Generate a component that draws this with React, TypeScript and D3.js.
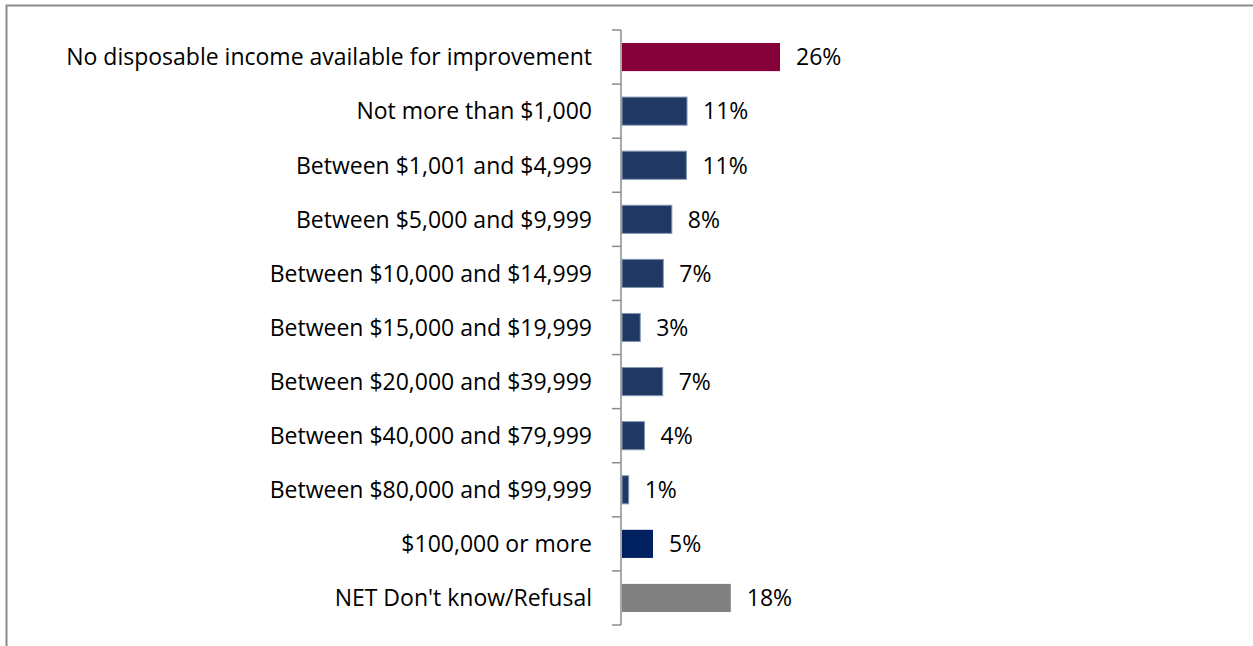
import { useEffect, useRef } from 'react';
import * as d3 from 'd3';

const categories = [
  'No disposable income available for improvement',
  'Not more than $1,000',
  'Between $1,001 and $4,999',
  'Between $5,000 and $9,999',
  'Between $10,000 and $14,999',
  'Between $15,000 and $19,999',
  'Between $20,000 and $39,999',
  'Between $40,000 and $79,999',
  'Between $80,000 and $99,999',
  '$100,000 or more',
  "NET Don't know/Refusal",
];

const values = [26, 10.7, 10.6, 8.2, 6.8, 3.0, 6.7, 3.7, 1.1, 5.1, 17.9];
const valueLabels = ['26%', '11%', '11%', '8%', '7%', '3%', '7%', '4%', '1%', '5%', '18%'];
const barColors = [
  '#86003a', '#1f3864', '#1f3864', '#1f3864', '#1f3864', '#1f3864',
  '#1f3864', '#1f3864', '#1f3864', '#002060', '#808080',
];
const barStrokes = [
  'none', '#8497b0', '#8497b0', '#8497b0', '#8497b0', '#8497b0',
  '#8497b0', '#8497b0', '#8497b0', 'none', 'none',
];

const App = () => {
  const svgRef = useRef<SVGSVGElement>(null);

  useEffect(() => {
    const svg = d3.select(svgRef.current);
    svg.selectAll('*').remove();

    const W = 1253;
    const H = 646;
    const axisX = 621;
    const font = "'Open Sans', sans-serif";
    const fontSize = '23px';

    // outer border (left + top visible)
    svg.append('rect')
      .attr('x', 6.5).attr('y', 5.5)
      .attr('width', W + 20).attr('height', H + 20)
      .attr('fill', 'none').attr('stroke', '#8c8c8c').attr('stroke-width', 2);

    const y = d3.scaleBand<number>()
      .domain(d3.range(categories.length))
      .range([30, 625])
      .paddingInner(0.48)
      .paddingOuter(0.24);

    const x = d3.scaleLinear().domain([0, 26]).range([axisX, 779]);

    // bars
    svg.selectAll('.bar')
      .data(values)
      .enter()
      .append('rect')
      .attr('class', 'bar')
      .attr('x', x(0) + 1)
      .attr('y', (d, i) => y(i)!)
      .attr('width', (d) => x(d) - x(0))
      .attr('height', y.bandwidth())
      .attr('fill', (d, i) => barColors[i])
      .attr('stroke', (d, i) => barStrokes[i])
      .attr('stroke-width', 1);

    // value labels
    svg.selectAll('.val')
      .data(values)
      .enter()
      .append('text')
      .attr('class', 'val')
      .attr('x', (d) => x(d) + 17)
      .attr('y', (d, i) => y(i)! + y.bandwidth() / 2)
      .attr('dy', '0.36em')
      .style('font-family', font)
      .style('font-size', fontSize)
      .attr('fill', '#000')
      .text((d, i) => valueLabels[i]);

    // category labels
    svg.selectAll('.cat')
      .data(categories)
      .enter()
      .append('text')
      .attr('class', 'cat')
      .attr('x', 592)
      .attr('y', (d, i) => y(i)! + y.bandwidth() / 2)
      .attr('dy', '0.36em')
      .attr('text-anchor', 'end')
      .style('font-family', font)
      .style('font-size', fontSize)
      .attr('fill', '#000')
      .text((d) => d);

    // axis line + ticks at band boundaries
    const bounds = d3.range(categories.length + 1).map((i) => 30 + i * (595 / categories.length));
    svg.append('line')
      .attr('x1', axisX).attr('x2', axisX)
      .attr('y1', 30).attr('y2', 625)
      .attr('stroke', '#8c8c8c').attr('stroke-width', 1.5);
    svg.selectAll('.tick')
      .data(bounds)
      .enter()
      .append('line')
      .attr('x1', axisX - 9).attr('x2', axisX)
      .attr('y1', (d) => d).attr('y2', (d) => d)
      .attr('stroke', '#8c8c8c').attr('stroke-width', 1.5);
  }, []);

  return (
    <svg
      ref={svgRef}
      width={1253}
      height={646}
      style={{ position: 'absolute', left: 0, top: 0, background: '#fff' }}
    />
  );
};

export default App;
